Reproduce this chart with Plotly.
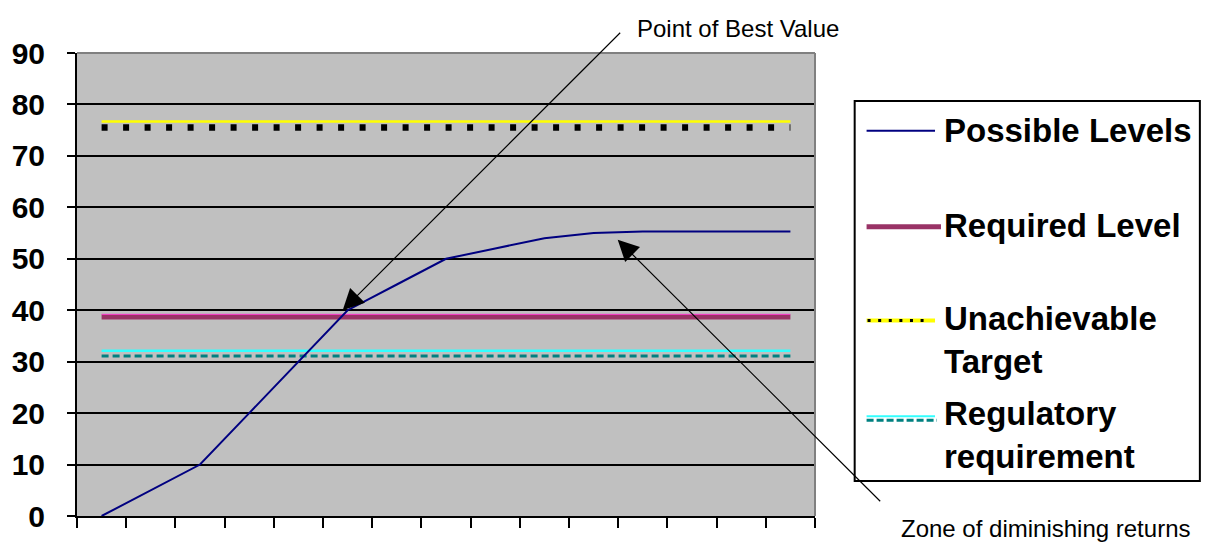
import plotly.graph_objects as go

# ---------------- data ----------------
categories = list(range(1, 16))
possible_levels = [0, 5, 10, 20, 30, 40, 45, 50, 52, 54, 55, 55.3, 55.3, 55.3, 55.3]
required_level = 38.7
required_level_edge = 39.2
unachievable_target = 76.7
unachievable_dots = 75.5
regulatory_requirement = 32.1
regulatory_dashed = 31.1
y_ticks = [0, 10, 20, 30, 40, 50, 60, 70, 80, 90]

W, H = 1206, 545
L, R, T, B = 71, 815, 53, 517


def px(x):
    return (x - L) / (R - L)


def py(y):
    return (B - y) / (B - T)


fig = go.Figure()

n = len(categories)


def flat(v):
    return [v for _ in categories]


fig.add_trace(go.Scatter(x=categories, y=flat(regulatory_requirement), mode="lines",
                         line=dict(color="#33FFFF", width=2.5), showlegend=False, hoverinfo="skip"))
fig.add_trace(go.Scatter(x=categories, y=flat(regulatory_dashed), mode="lines",
                         line=dict(color="#008080", width=3, dash="7px,4px"), showlegend=False,
                         hoverinfo="skip"))
fig.add_trace(go.Scatter(x=categories, y=flat(required_level), mode="lines",
                         line=dict(color="#993366", width=5), showlegend=False, hoverinfo="skip"))
fig.add_trace(go.Scatter(x=categories, y=flat(required_level_edge), mode="lines",
                         line=dict(color="#FF33CC", width=1), showlegend=False, hoverinfo="skip"))
fig.add_trace(go.Scatter(x=categories, y=flat(unachievable_target), mode="lines",
                         line=dict(color="#FFFF00", width=2.5), showlegend=False, hoverinfo="skip"))
fig.add_trace(go.Scatter(x=categories, y=flat(unachievable_dots), mode="lines",
                         line=dict(color="#000000", width=6.5, dash="6px,15.5px"), showlegend=False,
                         hoverinfo="skip"))
fig.add_trace(go.Scatter(x=categories, y=possible_levels, mode="lines",
                         line=dict(color="#000080", width=2), showlegend=False, name="Possible Levels"))

shapes = []
# plot border top/right (gray)
shapes.append(dict(type="line", xref="paper", yref="paper", x0=0, x1=1, y0=1, y1=1,
                   line=dict(color="#808080", width=2), layer="above"))
shapes.append(dict(type="line", xref="paper", yref="paper", x0=1, x1=1, y0=0, y1=1,
                   line=dict(color="#808080", width=2), layer="above"))

# legend box
shapes.append(dict(type="rect", xref="paper", yref="paper", x0=px(855), x1=px(1203),
                   y0=py(482), y1=py(101), line=dict(color="#000000", width=2),
                   fillcolor="white", layer="above"))
# legend samples
shapes.append(dict(type="line", xref="paper", yref="paper", x0=px(867), x1=px(936), y0=py(131), y1=py(131),
                   line=dict(color="#000080", width=2)))
shapes.append(dict(type="line", xref="paper", yref="paper", x0=px(867), x1=px(942), y0=py(227), y1=py(227),
                   line=dict(color="#993366", width=5)))
shapes.append(dict(type="line", xref="paper", yref="paper", x0=px(867), x1=px(936), y0=py(321), y1=py(321),
                   line=dict(color="#FFFF00", width=4)))
shapes.append(dict(type="line", xref="paper", yref="paper", x0=px(868), x1=px(925), y0=py(321), y1=py(321),
                   line=dict(color="#000000", width=3, dash="3px,7.6px")))
shapes.append(dict(type="line", xref="paper", yref="paper", x0=px(867), x1=px(936), y0=py(417), y1=py(417),
                   line=dict(color="#33FFFF", width=2)))
shapes.append(dict(type="line", xref="paper", yref="paper", x0=px(867), x1=px(938), y0=py(421), y1=py(421),
                   line=dict(color="#008080", width=3, dash="7px,3px")))

LEG_FONT = dict(family="Liberation Sans, Arial, sans-serif", size=33, color="black", weight="bold")
annotations = []
for text, yy in [("Possible Levels", 131), ("Required Level", 226), ("Unachievable<br>Target", 341),
                 ("Regulatory<br>requirement", 436)]:
    annotations.append(dict(text=text, xref="paper", yref="paper", x=px(943), y=py(yy),
                            xanchor="left", yanchor="middle", align="left", showarrow=False,
                            font=LEG_FONT))

NOTE_FONT = dict(family="Liberation Sans Narrow, Arial Narrow, sans-serif", size=24, color="black")
annotations.append(dict(text="Point of Best Value", xref="paper", yref="paper", x=px(737), y=py(28),
                        xanchor="center", yanchor="middle", showarrow=False, font=NOTE_FONT))
annotations.append(dict(text="Zone of diminishing returns", xref="paper", yref="paper", x=px(1047), y=py(530),
                        xanchor="center", yanchor="middle", showarrow=False, font=NOTE_FONT))
# arrows
annotations.append(dict(text="", x=5.9, y=40, xref="x", yref="y", showarrow=True, ax=279, ay=-279,
                        arrowhead=2, arrowsize=3.5, arrowwidth=1.2, arrowcolor="black", standoff=0))
annotations.append(dict(text="", x=11.49, y=53.7, xref="x", yref="y", showarrow=True, ax=264, ay=263,
                        arrowhead=2, arrowsize=3.5, arrowwidth=1.2, arrowcolor="black", standoff=0))

fig.update_layout(
    width=W, height=H,
    margin=dict(l=L, r=W - R, t=T, b=H - B, pad=0),
    paper_bgcolor="white",
    plot_bgcolor="#C0C0C0",
    showlegend=False,
    shapes=shapes,
    annotations=annotations,
    xaxis=dict(range=[0.5, 15.5], tickmode="array", tickvals=[c - 0.5 for c in categories] + [15.5],
               ticktext=["" for _ in range(n + 1)], ticks="outside", ticklen=10, tickwidth=2,
               tickcolor="black", showline=True, linecolor="black", linewidth=2,
               showgrid=False, zeroline=False, fixedrange=True),
    yaxis=dict(range=[0, 90], tickmode="array", tickvals=y_ticks, ticks="outside", ticklen=8,
               tickwidth=2, tickcolor="black", showline=True, linecolor="black", linewidth=2,
               showgrid=True, gridcolor="black", gridwidth=2, zeroline=False,
               tickfont=dict(family="Liberation Sans, Arial, sans-serif", size=30, color="black",
                             weight="bold"),
               ticklabelstandoff=16, fixedrange=True),
)

fig.write_html(
    "out.html",
    config={"displayModeBar": False},
    post_script="document.body.style.margin='0';document.body.style.overflow='hidden';",
)
